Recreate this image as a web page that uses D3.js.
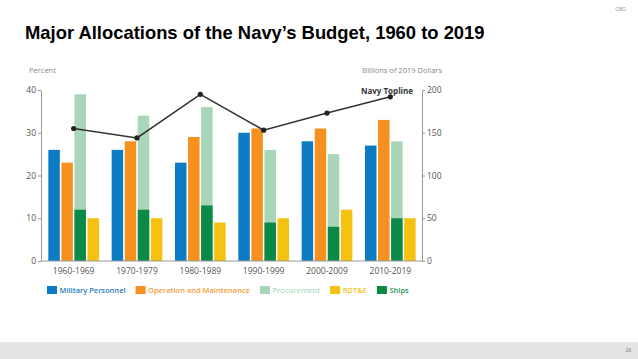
<!DOCTYPE html>
<html>
<head>
<meta charset="utf-8">
<script src="https://cdn.jsdelivr.net/npm/d3@7/dist/d3.min.js"></script>
<style>
  body { margin: 0; background: #fff; }
  svg { display: block; }
  .tick text { font-family: "Open Sans", sans-serif; fill: #555; }
</style>
</head>
<body>
<svg width="638" height="359"></svg>
<script>
// decades on the x axis
const decades = ["1960-1969", "1970-1979", "1980-1989", "1990-1999", "2000-2009", "2010-2019"];

// shares of the budget, percent
const militaryPersonnel = [26, 26, 23, 30, 28, 27];
const operationMaint    = [23, 28, 29, 31, 31, 33];
const procurement       = [39, 34, 36, 26, 25, 28];
const rdte              = [10, 10, 9, 10, 12, 10];
const ships             = [12, 12, 13, 9, 8, 10];

// navy topline, billions of 2019 dollars
const topline = [155, 144, 195, 153, 173, 192];

const leftTicks = [0, 10, 20, 30, 40];
const rightTicks = [0, 50, 100, 150, 200];

const series = [
  { key: "mp",   label: "Military Personnel",        color: "#0b7cc4", text: "#1f80c4", values: militaryPersonnel, slot: "mp" },
  { key: "om",   label: "Operation and Maintenance", color: "#f6901e", text: "#f5a040", values: operationMaint,    slot: "om" },
  { key: "proc", label: "Procurement",               color: "#a9d5b9", text: "#b7dcc6", values: procurement,       slot: "proc" },
  { key: "rdte", label: "RDT&E",                     color: "#f5c211", text: "#f3c41c", values: rdte,              slot: "rdte" },
  { key: "ship", label: "Ships",                     color: "#0a8a46", text: "#1d9552", values: ships,             slot: "proc" }
];

const svg = d3.select("svg");

// bottom gray strip + small slide text
svg.append("rect").attr("x", 0).attr("y", 342).attr("width", 638).attr("height", 17).attr("fill", "#e4e4e4");
svg.append("text").attr("x", 631).attr("y", 352).attr("text-anchor", "end")
  .attr("font-family", "Liberation Sans, Arial, sans-serif").attr("font-size", 5).attr("fill", "#777").text("16");
svg.append("text").attr("x", 626).attr("y", 11).attr("text-anchor", "end")
  .attr("font-family", "Liberation Sans, Arial, sans-serif").attr("font-size", 5).attr("fill", "#999").text("CBO");

// title
svg.append("text")
  .attr("x", 25).attr("y", 39)
  .attr("font-family", "Liberation Sans, Arial, sans-serif")
  .attr("font-weight", "bold").attr("font-size", 18.4).attr("fill", "#000")
  .text("Major Allocations of the Navy\u2019s Budget, 1960 to 2019");

// scales
const x0 = d3.scaleBand().domain(decades).range([42, 422]).paddingInner(0.2).paddingOuter(0.1);
const x1 = d3.scaleBand().domain(["mp", "om", "proc", "rdte"]).range([0, x0.bandwidth()]).paddingInner(0.12);
const yL = d3.scaleLinear().domain([0, 40]).range([261, 90]);
const yR = d3.scaleLinear().domain([0, 200]).range([261, 90]);

// bars
const barsG = svg.append("g");
series.forEach(s => {
  barsG.selectAll(".b-" + s.key)
    .data(decades.map((d, i) => ({ d, v: s.values[i] })))
    .join("rect")
      .attr("class", "b-" + s.key)
      .attr("x", e => x0(e.d) + x1(s.slot))
      .attr("width", x1.bandwidth())
      .attr("y", e => yL(e.v))
      .attr("height", e => yL(0) - yL(e.v))
      .attr("fill", s.color);
});

// axes
const axL = svg.append("g").attr("transform", "translate(41,0)")
  .call(d3.axisLeft(yL).tickValues(leftTicks).tickSize(3).tickSizeOuter(0).tickPadding(2));
const axR = svg.append("g").attr("transform", "translate(422,0)")
  .call(d3.axisRight(yR).tickValues(rightTicks).tickSize(3).tickSizeOuter(0).tickPadding(2));
const axB = svg.append("g").attr("transform", "translate(0,261)")
  .call(d3.axisBottom(x0).tickSize(0).tickPadding(7));
axB.select(".domain").attr("d", "M41,0H422");
[axL, axR, axB].forEach(a => {
  a.select(".domain").attr("stroke", "#999");
  a.selectAll(".tick line").attr("stroke", "#999");
  a.selectAll(".tick text").attr("font-size", 8.5).attr("fill", "#555");
});

// axis titles
svg.append("text").attr("x", 29).attr("y", 73)
  .attr("font-family", "Open Sans, sans-serif").attr("font-size", 7.5).attr("fill", "#888").text("Percent");
svg.append("text").attr("x", 442).attr("y", 73).attr("text-anchor", "end")
  .attr("font-family", "Open Sans, sans-serif").attr("font-size", 7.5).attr("fill", "#888").text("Billions of 2019 Dollars");

// topline
const line = d3.line()
  .x((v, i) => x0(decades[i]) + x0.bandwidth() / 2)
  .y(v => yR(v));
svg.append("path").datum(topline).attr("d", line)
  .attr("fill", "none").attr("stroke", "#333").attr("stroke-width", 1.5);
svg.selectAll(".pt").data(topline).join("circle").attr("class", "pt")
  .attr("cx", (v, i) => x0(decades[i]) + x0.bandwidth() / 2)
  .attr("cy", v => yR(v)).attr("r", 2.6).attr("fill", "#222");
svg.append("text").attr("x", 413).attr("y", 94).attr("text-anchor", "end")
  .attr("font-family", "Open Sans, sans-serif").attr("font-weight", "bold")
  .attr("font-size", 8).attr("fill", "#333").text("Navy Topline");

// legend
const legend = svg.append("g").attr("transform", "translate(47,286)");
let lx = 0;
series.forEach(s => {
  const g = legend.append("g").attr("transform", `translate(${lx},0)`);
  g.append("rect").attr("width", 10).attr("height", 8).attr("fill", s.color);
  const t = g.append("text").attr("x", 12.5).attr("y", 7)
    .attr("font-family", "Open Sans, sans-serif").attr("font-weight", 600)
    .attr("font-size", 7.5).attr("fill", s.text).text(s.label);
  lx += 12.5 + t.node().getComputedTextLength() + 10;
});
</script>
</body>
</html>
